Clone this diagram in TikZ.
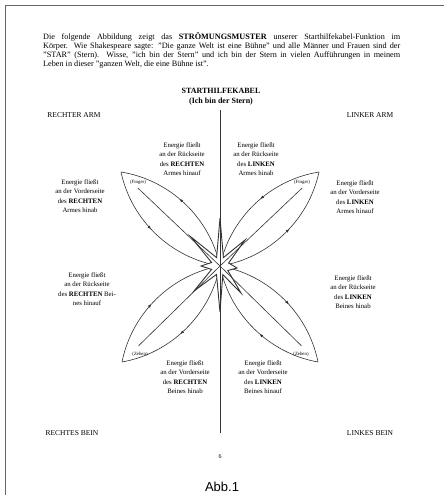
\documentclass[tikz,border=0pt]{standalone}
\usepackage{fontspec}
\setmainfont{Liberation Serif}
\newfontfamily\handfont{Liberation Sans}
\usetikzlibrary{arrows.meta,calc,decorations.markings}

% one leaf: #1 tip, #2 style of the +90 arc, #3 style of the -90 arc
\newcommand\blatt[3]{%
  \draw[linie,#2] (ctr) .. controls ($(ctr)!0.3!(#1)!28pt!90:(#1)$) and ($(ctr)!0.7!(#1)!28pt!90:(#1)$) .. (#1);
  \draw[linie,#3] (ctr) .. controls ($(ctr)!0.3!(#1)!28pt!-90:(#1)$) and ($(ctr)!0.7!(#1)!28pt!-90:(#1)$) .. (#1);
}

\begin{document}
\begin{tikzpicture}[
  x=1pt, y=-1pt,
  >=Latex,
  linie/.style={line width=0.6pt, draw=black!80},
  aus/.style={postaction={decorate,decoration={markings,mark=at position 0.55 with {\arrow{Latex[length=3.5pt,width=3pt]}}}}},
  ein/.style={postaction={decorate,decoration={markings,mark=at position 0.55 with {\arrowreversed{Latex[length=3.5pt,width=3pt]}}}}},
  info/.style={align=center, inner sep=0pt, font=\fontsize{6.8}{9.3}\selectfont},
  ecke/.style={inner sep=0pt, font=\fontsize{7.5}{9}\selectfont},
  klein/.style={inner sep=0pt, font=\fontsize{4.8}{5}\selectfont}
]
\useasboundingbox (0,0) rectangle (444,495);

% page edge
\draw[black!60, line width=0.8pt] (5,495) -- (5,5) -- (444,5);

\node[anchor=north west, inner sep=0pt, text width=357pt, align=justify,
      font=\fontsize{8.2}{9.3}\selectfont] (text) at (43,32)
  {\hyphenpenalty=10000 Die folgende Abbildung zeigt das \textbf{STRÖMUNGSMUSTER} unserer Starthilfekabel-Funktion im\linebreak
   Körper. Wie Shakespeare sagte: "Die ganze Welt ist eine Bühne" und alle Männer und Frauen sind der\linebreak
   "STAR" (Stern). Wisse, "ich bin der Stern" und ich bin der Stern in vielen Aufführungen in meinem\linebreak
   Leben in dieser "ganzen Welt, die eine Bühne ist".};

\node[font=\bfseries\fontsize{8}{10}\selectfont, align=center, inner sep=0pt] (titel) at (221,97)
  {STARTHILFEKABEL\\(Ich bin der Stern)};

\node[ecke] (rarm) at (74,115) {RECHTER ARM};
\node[ecke] (larm) at (370,115) {LINKER ARM};
\node[ecke] (rbein) at (72,433) {RECHTES BEIN};
\node[ecke] (lbein) at (370,433) {LINKES BEIN};

\coordinate (ctr) at (220,266);
\coordinate (oben) at (220,110);
\coordinate (unten) at (220,433);
\coordinate (ul) at (121,172);
\coordinate (ur) at (319,172);
\coordinate (ll) at (122,362);
\coordinate (lr) at (318,362);

% leaves
\blatt{ul}{ein}{aus}
\blatt{ur}{ein}{aus}
\blatt{ll}{aus}{ein}
\blatt{lr}{aus}{ein}

% star
\begin{scope}[shift={(ctr)}]
\draw[linie, line width=0.9pt, fill=white] (0,-48) -- (3.4,-8.4) -- (25,-26) -- (8.6,-3) -- (17,2) -- (7.8,4.5)
  -- (21,27) -- (2.8,8.6) -- (0,46) -- (-3.5,8.4) -- (-26,25) -- (-8.4,3.4) -- (-19,0)
  -- (-8.4,-3.5) -- (-29,-29) -- (-3.4,-8.4) -- cycle;
\end{scope}
\draw[linie] (oben) -- (unten);
\draw[linie] ($(ul)!0.17!(ctr)$) -- (ctr);
\draw[linie] ($(ur)!0.17!(ctr)$) -- (ctr);
\draw[linie] ($(ll)!0.17!(ctr)$) -- (ctr);
\draw[linie] ($(lr)!0.17!(ctr)$) -- (ctr);

\node[klein] (fr) at (138,182) {(Finger)};
\node[klein] (fl) at (302,182) {(Finger)};
\node[klein] (zr) at (140,354) {(Zehen)};
\node[klein] (zl) at (301,354) {(Zehen)};

\node[info] (rueckra) at (182,159) {Energie fließt\\an der Rückseite\\des \textbf{RECHTEN}\\Armes hinauf};
\node[info] (rueckla) at (256,159) {Energie fließt\\an der Rückseite\\des \textbf{LINKEN}\\Armes hinab};
\node[info] (vornra) at (80,196) {Energie fließt\\an der Vorderseite\\des \textbf{RECHTEN}\\Armes hinab};
\node[info] (vornla) at (355,197) {Energie fließt\\an der Vorderseite\\des \textbf{LINKEN}\\Armes hinauf};
\node[info] (rueckrb) at (87,289) {Energie fließt\\an der Rückseite\\des \textbf{RECHTEN} Bei-\\nes hinauf};
\node[info] (rucklb) at (353,292) {Energie fließt\\an der Rückseite\\des \textbf{LINKEN}\\Beines hinab};
\node[info] (vornrb) at (185,377) {Energie fließt\\an der Vorderseite\\des \textbf{RECHTEN}\\Beines hinab};
\node[info] (vornlb) at (263,377) {Energie fließt\\an der Vorderseite\\des \textbf{LINKEN}\\Beines hinauf};

\node[inner sep=0pt, font=\fontsize{6}{7}\selectfont] (seite) at (220,457) {6};
\node[inner sep=0pt, font=\handfont\fontsize{13}{14}\selectfont] (abb) at (222,487) {Abb.1};
\end{tikzpicture}
\end{document}
